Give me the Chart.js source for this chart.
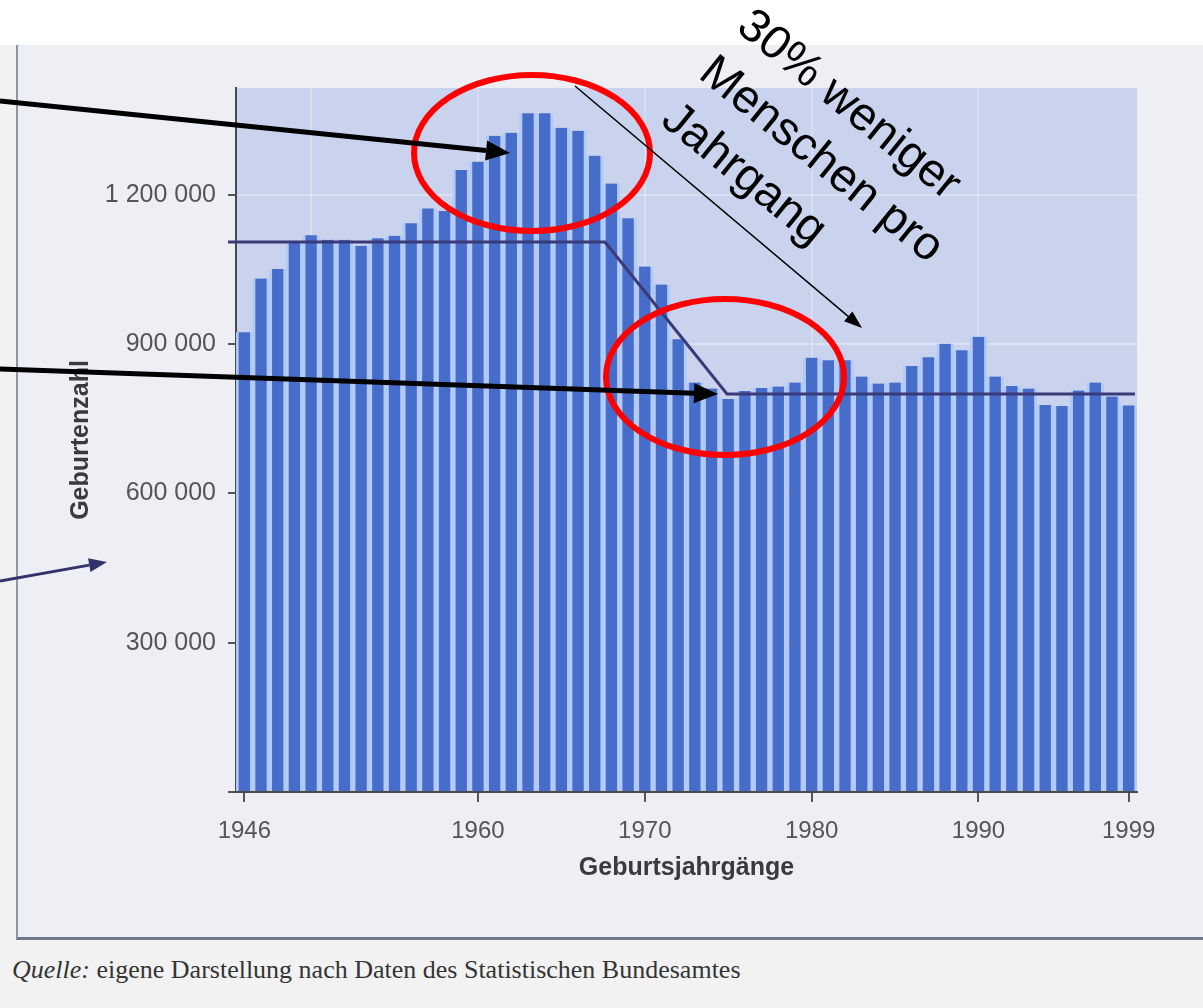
<!DOCTYPE html>
<html lang="de">
<head>
<meta charset="utf-8">
<title>Geburtenzahl nach Geburtsjahrgängen 1946–1999</title>
<script src="https://cdn.jsdelivr.net/npm/chart.js@4.4.1/dist/chart.umd.min.js"></script>
<style>
    html, body { margin: 0; padding: 0; background: #ffffff; }
    #page { position: relative; width: 1203px; height: 1008px; overflow: hidden; background: #ffffff; }
    #sheet { position: absolute; left: 0; top: 45px; width: 1203px; height: 963px; background: #f2f2f3; }
    #panel {
        position: absolute; left: 16px; top: 45px; width: 1187px; height: 895px;
        background: #edeff4; border-left: 2px solid #8e95a3; border-bottom: 3px solid #6f7a90;
        box-sizing: border-box;
    }
    #source {
        position: absolute; left: 12px; top: 955px; white-space: nowrap;
        font: 26px 'Liberation Serif', 'DejaVu Serif', serif; color: #343434;
    }
    #chartBox { position: absolute; left: 0; top: 0; width: 1203px; height: 1008px; }
</style>
</head>
<body>
<div id="page">
    <div id="sheet"></div>
    <div id="panel"></div>
    <div id="source"><em>Quelle:</em> eigene Darstellung nach Daten des Statistischen Bundesamtes</div>
    <div id="chartBox"><canvas id="birthsChart"></canvas></div>
</div>

<script>
// Geburtenzahl je Geburtsjahrgang
const years = [
    '1946', '1947', '1948', '1949', '1950', '1951', '1952', '1953', '1954', '1955',
    '1956', '1957', '1958', '1959', '1960', '1961', '1962', '1963', '1964', '1965',
    '1966', '1967', '1968', '1969', '1970', '1971', '1972', '1973', '1974', '1975',
    '1976', '1977', '1978', '1979', '1980', '1981', '1982', '1983', '1984', '1985',
    '1986', '1987', '1988', '1989', '1990', '1991', '1992', '1993', '1994', '1995',
    '1996', '1997', '1998', '1999'
];
const births = [
    924000, 1032000, 1051000, 1104000, 1119000, 1110000, 1110000, 1098000, 1113000, 1118000,
    1143000, 1173000, 1168000, 1250000, 1267000, 1319000, 1325000, 1364000, 1364000, 1335000,
    1329000, 1279000, 1223000, 1153000, 1056000, 1020000, 910000, 823000, 811000, 790000,
    806000, 812000, 815000, 823000, 873000, 868000, 868000, 835000, 821000, 823000,
    856000, 874000, 901000, 888000, 915000, 835000, 816000, 811000, 778000, 776000,
    807000, 823000, 795000, 777000
];
const yTicks = [0, 300000, 600000, 900000, 1200000];
const labelledYears = ['1946', '1960', '1970', '1980', '1990', '1999'];
const gridYears = ['1950', '1960', '1970', '1980', '1990'];
const noteLines = ['30% weniger', 'Menschen pro', 'Jahrgang'];

// "1 200 000" style
function formatBirths(value) {
    return String(value).replace(/\B(?=(\d{3})+(?!\d))/g, ' ');
}

// ============================================
// PLOT BACKGROUND
// ============================================
const plotBackground = {
    id: 'plotBackground',
    beforeDraw(chart) {
        const { ctx, chartArea } = chart;
        ctx.save();
        ctx.fillStyle = '#c9d3ed';
        ctx.fillRect(chartArea.left, chartArea.top, chartArea.right - chartArea.left, chartArea.bottom - chartArea.top);
        ctx.restore();
    }
};

// ============================================
// HAND-DRAWN ANNOTATIONS (ellipses, arrows, note)
// ============================================
function drawArrow(c, x1, y1, x2, y2, width, headLen, headW, color) {
    const a = Math.atan2(y2 - y1, x2 - x1);
    const bx = x2 - headLen * Math.cos(a);
    const by = y2 - headLen * Math.sin(a);
    c.strokeStyle = color;
    c.lineWidth = width;
    c.beginPath();
    c.moveTo(x1, y1);
    c.lineTo(bx, by);
    c.stroke();
    c.fillStyle = color;
    c.beginPath();
    c.moveTo(x2, y2);
    c.lineTo(bx + headW / 2 * Math.sin(a), by - headW / 2 * Math.cos(a));
    c.lineTo(bx - headW / 2 * Math.sin(a), by + headW / 2 * Math.cos(a));
    c.closePath();
    c.fill();
}

const annotations = {
    id: 'annotations',
    afterDraw(chart) {
        const c = chart.ctx;
        c.save();
        c.lineCap = 'butt';

        // level line: before / after the baby boom
        c.strokeStyle = '#3b3a78';
        c.lineWidth = 3;
        c.beginPath();
        c.moveTo(228, 242);
        c.lineTo(605, 242);
        c.lineTo(727, 394);
        c.lineTo(1135, 394);
        c.stroke();

        // red circles
        c.strokeStyle = '#ff0000';
        c.lineWidth = 6;
        c.beginPath();
        c.ellipse(532, 153, 118, 78, 0, 0, Math.PI * 2);
        c.stroke();
        c.beginPath();
        c.ellipse(725, 377, 119, 78, 0, 0, Math.PI * 2);
        c.stroke();

        // arrows
        drawArrow(c, 0, 101, 510, 153, 5, 24, 20, '#000000');
        drawArrow(c, 0, 369, 718, 394, 5, 24, 20, '#000000');
        drawArrow(c, 0, 581, 107, 562, 3, 18, 14, '#33336b');
        drawArrow(c, 575, 86, 862, 328, 1.5, 18, 13, '#000000');

        // rotated note
        c.fillStyle = '#000000';
        c.font = "47px 'Liberation Sans', Arial, sans-serif";
        c.textAlign = 'left';
        c.textBaseline = 'middle';
        c.translate(743, 20);
        c.rotate(39 * Math.PI / 180);
        noteLines.forEach((line, i) => c.fillText(line, 0, i * 60));
        c.restore();
    }
};

// ============================================
// CHART
// ============================================
const fontFamily = "'Liberation Sans', Arial, sans-serif";
const titleFont = { family: fontFamily, size: 25, weight: 'bold' };

new Chart(document.getElementById('birthsChart'), {
    type: 'bar',
    data: {
        labels: years,
        datasets: [{
            label: 'Geburtenzahl',
            data: births,
            backgroundColor: '#476dcb',
            borderColor: '#b3caf4',
            borderWidth: { left: 3, right: 3, top: 0, bottom: 0 },
            borderSkipped: false,
            barPercentage: 1,
            categoryPercentage: 1
        }]
    },
    options: {
        responsive: true,
        maintainAspectRatio: false,
        animation: false,
        layout: { padding: { left: 0, right: 66, top: 88, bottom: 0 } },
        plugins: {
            legend: { display: false },
            tooltip: { enabled: false }
        },
        scales: {
            x: {
                offset: true,
                grid: {
                    offset: false,
                    lineWidth: 2,
                    color: (ctx) => gridYears.includes(years[ctx.index]) ? 'rgba(255,255,255,0.25)' : 'rgba(0,0,0,0)',
                    tickColor: (ctx) => labelledYears.includes(years[ctx.index]) ? '#555555' : 'rgba(0,0,0,0)',
                    tickLength: 10
                },
                border: { color: '#4a4a4a', width: 2 },
                ticks: {
                    autoSkip: false,
                    maxRotation: 0,
                    minRotation: 0,
                    padding: 15,
                    color: '#555555',
                    font: { family: fontFamily, size: 24 },
                    callback: function(value, index) {
                        return labelledYears.includes(years[index]) ? years[index] : '';
                    }
                },
                title: {
                    display: true,
                    text: 'Geburtsjahrgänge',
                    color: '#3a3a3a',
                    font: titleFont,
                    padding: { top: 0, bottom: 125 }
                },
                afterFit: (scale) => { scale.height = 216; }
            },
            y: {
                min: 0,
                max: 1415000,
                afterBuildTicks: (scale) => { scale.ticks = yTicks.map(v => ({ value: v })); },
                grid: {
                    lineWidth: 2,
                    color: 'rgba(255,255,255,0.3)',
                    tickColor: '#555555',
                    tickLength: 8
                },
                border: { color: '#4a4a4a', width: 2 },
                ticks: {
                    padding: 12,
                    color: '#555555',
                    font: { family: fontFamily, size: 25 },
                    callback: (value) => value === 0 ? '' : formatBirths(value)
                },
                title: {
                    display: true,
                    text: 'Geburtenzahl',
                    color: '#3a3a3a',
                    font: titleFont,
                    padding: { top: 66, bottom: 0 }
                },
                afterFit: (scale) => { scale.width = 236; }
            }
        }
    },
    plugins: [plotBackground, annotations]
});
</script>
</body>
</html>
